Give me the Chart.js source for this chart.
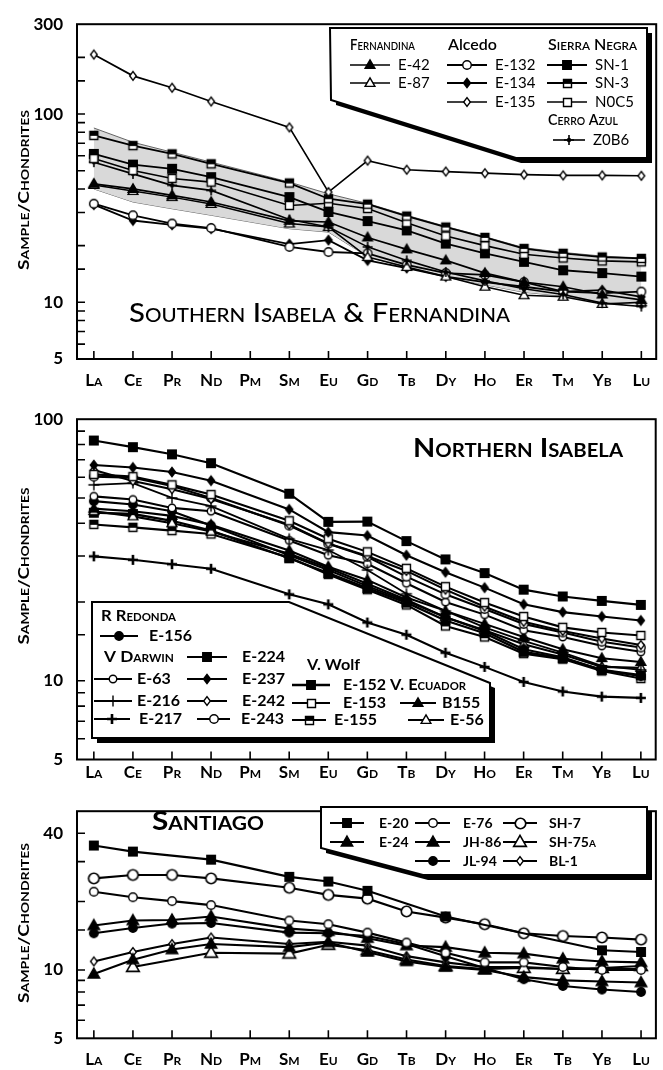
<!DOCTYPE html>
<html lang="en">
<head>
<meta charset="utf-8">
<title>Chondrite-normalised REE patterns</title>
<script src="https://cdn.jsdelivr.net/npm/chart.js@4.4.1/dist/chart.umd.min.js"></script>
<style>
  html, body { margin:0; padding:0; background:#fff; }
  #page { position:relative; width:663px; height:1070px; overflow:hidden; background:#fff; }
  #page canvas { position:absolute; left:0; }
</style>
</head>
<body>
<div id="page">
  <canvas id="south" width="663" height="400" style="top:0px"></canvas>
  <canvas id="north" width="663" height="392" style="top:395px"></canvas>
  <canvas id="santiago" width="663" height="283" style="top:787px"></canvas>
</div>
<script>
// ================= DATA =================
const elements = ['La','Ce','Pr','Nd','Pm','Sm','Eu','Gd','Tb','Dy','Ho','Er','Tm','Yb','Lu'];
const elementsSantiago = ['La','Ce','Pr','Nd','Pm','Sm','Eu','Gd','Tb','Dy','Ho','Er','Tb','Yb','Lu'];

const yTicksSouth = [5, 10, 100, 300];
const yTicksNorth = [5, 10, 100];
const yTicksSantiago = [5, 10, 40];

// --- Southern Isabela & Fernandina ---
const E42  = [42.6, 40.0, 37.0, 34.1, null, 27.1, 26.7, 22.1, 19.1, 16.7, 14.3, 12.8, 12.1, 11.0, 10.3];
const E87  = [42.0, 39.0, 36.2, 33.3, null, 26.2, 25.1, 17.4, 15.4, 13.7, 12.1, 10.9, 10.7, 9.8, 10.0];
const E132 = [33.4, 29.0, 26.2, 24.8, null, 19.7, 18.5, 18.2, 15.8, 14.3, 14.0, 12.8, 11.4, 11.2, 11.4];
const E134 = [33.0, 27.2, 25.8, 24.6, null, 20.4, 21.4, 16.7, 15.2, 13.7, 12.8, 12.1, 11.4, 11.6, 10.7];
const E135 = [207, 159.5, 138, 116.6, null, 84.9, 38.5, 56.6, 50.6, 49.5, 48.5, 47.7, 47.2, 47.2, 47.0];
const SN1  = [61.4, 53.9, 51.2, 46.2, null, 36.2, 30.2, 27.0, 24.1, 20.5, 18.2, 16.4, 14.8, 14.3, 13.7];
const SN3  = [77.0, 68.0, 61.4, 54.4, null, 43.0, 35.5, 33.2, 28.7, 25.1, 22.1, 19.3, 18.2, 17.4, 17.1];
const N0C5 = [58.0, 50.1, 45.5, 43.5, null, 32.7, 33.6, 31.5, 26.5, 22.5, 20.0, 18.0, 17.2, 16.6, 16.4];
const Z0B6 = [55.5, 48.1, 41.8, 39.3, null, 27.5, 25.1, 19.7, 16.7, 14.5, 13.0, 11.8, 11.0, 9.9, 9.5];
const rangeHigh = [84.3, 70.8, 62.7, 55.5, null, 43.5, 37.7, 33.5, 29.0, 25.3, 22.3, 19.5, 18.4, 17.6, 17.2];
const rangeLow  = [40.0, 34.1, 31.4, 29.0, null, 24.6, 23.6, 17.5, 15.3, 13.6, 12.4, 11.3, 10.8, 10.0, 9.8];

// --- Northern Isabela ---
const E156 = [48.6, 47.2, 44.5, 39.2, null, 30.2, 26.5, 23.0, 20.2, 17.5, 15.5, 13.2, 12.3, 11.0, 10.4];
const E63  = [50.7, 49.3, 45.8, 44.5, null, 34.4, 30.2, 28.0, 23.6, 20.0, 17.9, 15.6, 14.7, 13.6, 12.9];
const E216 = [56.1, 57.0, 50.0, 46.5, null, 34.9, 31.6, 26.5, 21.5, 18.5, 16.0, 14.2, 12.8, 11.4, 11.0];
const E217 = [29.9, 29.0, 27.9, 26.8, null, 21.4, 19.6, 16.7, 15.0, 12.8, 11.3, 9.9, 9.1, 8.7, 8.6];
const E224 = [82.9, 78.2, 73.4, 67.9, null, 51.9, 40.5, 40.6, 34.2, 29.1, 25.8, 22.3, 21.0, 20.2, 19.5];
const E237 = [66.8, 65.4, 62.8, 58.2, null, 45.2, 37.0, 35.9, 30.2, 26.0, 22.7, 19.6, 18.3, 17.6, 17.0];
const E242 = [64.0, 58.0, 54.0, 49.5, null, 39.5, 33.5, 30.0, 26.3, 22.3, 19.2, 16.8, 15.5, 14.5, 13.7];
const E243 = [60.3, 59.8, 55.5, 50.0, null, 39.2, 33.4, 29.8, 25.0, 21.4, 18.8, 16.5, 15.3, 14.1, 13.4];
const E152 = [43.9, 43.4, 40.9, 37.5, null, 29.4, 25.8, 22.6, 19.9, 17.0, 15.2, 12.9, 12.2, 11.0, 10.5];
const E153 = [61.5, 60.3, 56.1, 51.5, null, 40.9, 34.9, 31.1, 26.9, 22.9, 19.9, 17.6, 16.0, 15.3, 14.9];
const E155 = [39.6, 38.6, 37.5, 36.4, null, 29.6, 25.5, 22.3, 19.5, 16.2, 14.7, 12.7, 12.1, 10.9, 10.2];
const B155 = [45.5, 44.5, 42.7, 39.5, null, 31.5, 27.3, 24.3, 20.8, 18.5, 16.5, 14.7, 13.2, 12.2, 11.8];
const E56  = [44.5, 42.5, 40.0, 37.2, null, 30.6, 27.0, 23.5, 20.4, 17.5, 15.6, 13.8, 12.6, 11.3, 11.2];

// --- Santiago ---
const E20   = [35.3, 33.2, null, 30.6, null, 25.7, 24.5, 22.3, null, 17.2, null, null, null, 12.2, 12.0];
const E24   = [15.7, 16.5, 16.6, 17.2, null, 15.2, 14.8, 13.8, 12.8, 12.6, 11.9, 11.8, 11.2, 10.9, 10.8];
const E76   = [22.1, 20.9, 20.1, 19.3, null, 16.5, 15.9, 14.6, 13.2, 11.9, 10.8, 10.8, 10.3, 10.0, 10.0];
const JH86  = [9.6, 11.1, 12.3, 13.0, null, 12.6, 13.2, 12.0, 10.9, 10.3, 10.0, 9.3, 9.0, 8.9, 8.8];
const JL94  = [14.5, 15.3, 16.0, 16.1, null, 14.6, 14.5, 14.1, 13.0, 11.5, 10.2, 9.1, 8.5, 8.2, 8.0];
const SH7   = [25.3, 26.2, 26.2, 25.3, null, 23.0, 21.4, 20.6, 18.1, 17.0, 15.9, 14.5, 14.1, 13.9, 13.6];
const SH75a = [null, 10.3, null, 11.9, null, 11.8, 12.9, 12.2, 11.1, 10.4, 10.1, 10.2, 10.1, 10.2, 10.4];
const BL1   = [10.9, 12.0, 13.0, 13.9, null, 13.0, 13.3, 12.8, 11.5, 10.8, 10.3, 10.3, 10.1, 10.1, 10.1];

// ================= HELPERS =================
const FONT = 'Lato';
const X_MIN = -0.431, X_MAX = 14.38;

function pts(arr) {
  return arr.map((v, i) => ({ x: i, y: v })).filter(p => p.y !== null && p.y !== undefined);
}

function makeMarker(shape, fill, size, lw) {
  const W = Math.ceil(size * 1.6) + 4;
  const c = document.createElement('canvas');
  c.width = W; c.height = W;
  const g = c.getContext('2d');
  const m = W / 2, r = size / 2;
  g.strokeStyle = '#000'; g.fillStyle = fill; g.lineWidth = lw || 1.4;
  g.beginPath();
  if (shape === 'square' || shape === 'half') g.rect(m - r, m - r, size, size);
  else if (shape === 'circle') g.arc(m, m, r, 0, Math.PI * 2);
  else if (shape === 'triangle') { g.moveTo(m, m - r * 1.2); g.lineTo(m + r * 1.15, m + r * 0.8); g.lineTo(m - r * 1.15, m + r * 0.8); g.closePath(); }
  else if (shape === 'diamond') { g.moveTo(m, m - r * 1.25); g.lineTo(m + r * 0.95, m); g.lineTo(m, m + r * 1.25); g.lineTo(m - r * 0.95, m); g.closePath(); }
  if (shape === 'plus' || shape === 'plusdot') {
    g.moveTo(m - r, m); g.lineTo(m + r, m); g.moveTo(m, m - r); g.lineTo(m, m + r); g.stroke();
    if (shape === 'plusdot') { g.beginPath(); g.fillStyle = '#000'; g.arc(m, m, 2.2, 0, Math.PI * 2); g.fill(); }
  } else {
    g.fill(); g.stroke();
    if (shape === 'half') { g.fillStyle = '#000'; g.fillRect(m - r, m - r, size, size * 0.55); }
  }
  return c;
}

function lineSet(label, data, marker, lw) {
  return { label, data: pts(data), borderColor: '#000', backgroundColor: '#000', borderWidth: lw,
           pointStyle: marker, pointRadius: 5, pointHoverRadius: 5, tension: 0, fill: false, order: 1 };
}

function fitText(ctx, text, x, y, w, font, baseline) {
  ctx.font = font;
  const nat = ctx.measureText(text).width;
  ctx.save();
  ctx.translate(x, y);
  if (w) ctx.scale(w / nat, 1);
  ctx.textAlign = 'left';
  ctx.textBaseline = baseline || 'middle';
  ctx.fillStyle = '#000';
  ctx.fillText(text, 0, 0);
  ctx.restore();
}

function buildPanel(o) {
  const decor = {
    id: 'decor_' + o.id,
    afterDatasetsDraw(chart) {
      const ctx = chart.ctx, a = chart.chartArea, xs = chart.scales.x, ys = chart.scales.y;
      ctx.save();
      ctx.strokeStyle = '#000';
      ctx.lineWidth = 1.6;
      ctx.beginPath();
      ys.ticks.forEach(t => {
        const y = ys.getPixelForValue(t.value);
        if (y > a.top + 1 && y < a.bottom - 1) { ctx.moveTo(a.left, y); ctx.lineTo(a.left + 8, y); }
      });
      xs.ticks.forEach(t => {
        const x = xs.getPixelForValue(t.value);
        ctx.moveTo(x, a.bottom); ctx.lineTo(x, a.bottom - 8);
      });
      ctx.stroke();
      ctx.lineWidth = 2;
      ctx.strokeRect(a.left, a.top, a.right - a.left, a.bottom - a.top);

      ctx.translate(0, -o.top);
      // y-axis title
      const yt = o.yTitle;
      ctx.save();
      ctx.font = yt.font;
      const nat = ctx.measureText(yt.text).width;
      ctx.translate(yt.x, yt.y);
      ctx.rotate(-Math.PI / 2);
      ctx.scale(yt.w / nat, 1);
      ctx.textAlign = 'center'; ctx.textBaseline = 'middle'; ctx.fillStyle = '#000';
      ctx.fillText(yt.text, 0, 0);
      ctx.restore();
      // panel title
      const pt = o.title;
      fitText(ctx, pt.text, pt.x, pt.y, pt.w, pt.font, 'alphabetic');
      // legend
      const L = o.legend;
      const poly = (dx, dy) => {
        ctx.beginPath();
        L.box.forEach((p, i) => i ? ctx.lineTo(p[0] + dx, p[1] + dy) : ctx.moveTo(p[0] + dx, p[1] + dy));
        ctx.closePath();
      };
      poly(5, 5); ctx.fillStyle = '#000'; ctx.fill();
      poly(0, 0); ctx.fillStyle = '#fff'; ctx.fill();
      ctx.lineWidth = 2; ctx.strokeStyle = '#000'; ctx.stroke();
      L.headers.forEach(h => fitText(ctx, h.text, h.x, h.y, h.w, h.font));
      L.items.forEach(it => {
        const ds = chart.data.datasets.find(d => d.label === it.name);
        ctx.strokeStyle = '#000';
        ctx.lineWidth = ds.borderWidth;
        ctx.beginPath(); ctx.moveTo(it.x0, it.y); ctx.lineTo(it.x1, it.y); ctx.stroke();
        const img = ds.pointStyle;
        ctx.drawImage(img, Math.round((it.x0 + it.x1) / 2 - img.width / 2), Math.round(it.y - img.height / 2));
        ctx.font = L.font; ctx.textAlign = 'left'; ctx.textBaseline = 'middle'; ctx.fillStyle = '#000';
        ctx.fillText(it.name, it.tx, it.y);
      });
      ctx.restore();
    }
  };
  return new Chart(document.getElementById(o.id), {
    type: 'line',
    data: { datasets: o.datasets },
    options: {
      responsive: false, animation: false, events: [],
      layout: { padding: { top: o.padTop, right: 2, left: 0, bottom: 0 } },
      plugins: { legend: { display: false }, tooltip: { enabled: false }, title: { display: false } },
      scales: {
        x: {
          type: 'linear', min: X_MIN, max: X_MAX,
          afterBuildTicks: s => { s.ticks = o.labels.map((_, i) => ({ value: i })); },
          afterFit: s => { s.height = o.xAxisHeight; },
          ticks: { autoSkip: false, maxRotation: 0, minRotation: 0, padding: o.xPad, color: '#000',
                   font: { family: FONT, size: 17, weight: 'small-caps bold' },
                   callback: (v, i) => o.labels[i] },
          grid: { display: false, drawTicks: false }, border: { display: false }
        },
        y: {
          type: 'logarithmic', min: o.yMin, max: o.yMax,
          afterFit: s => { s.width = 77; },
          ticks: { autoSkip: false, padding: 14, color: '#000',
                   font: { family: FONT, size: 17, weight: 'bold' },
                   callback: v => o.yLabels.some(l => Math.abs(l - v) < l * 1e-6) ? String(Math.round(v)) : '' },
          grid: { display: false, drawTicks: false }, border: { display: false }
        }
      }
    },
    plugins: [decor]
  });
}

// ================= MARKERS =================
const mk = {
  triBlack: makeMarker('triangle', '#000', 8.5),
  triWhite: makeMarker('triangle', '#fff', 8.5),
  circWhite: makeMarker('circle', '#fff', 8.5),
  circWhiteSm: makeMarker('circle', '#fff', 7.5),
  circWhiteLg: makeMarker('circle', '#fff', 10.5, 1.7),
  circBlack: makeMarker('circle', '#000', 8.5),
  diaBlack: makeMarker('diamond', '#000', 7.5),
  diaWhite: makeMarker('diamond', '#fff', 7),
  sqBlack: makeMarker('square', '#000', 8.5),
  sqWhite: makeMarker('square', '#fff', 8),
  sqHalf: makeMarker('half', '#fff', 8),
  plusDot: makeMarker('plusdot', '#000', 10, 1.6),
  plusThin: makeMarker('plus', '#000', 11, 1.4),
  plusBold: makeMarker('plus', '#000', 10, 2.6),
  triBlackLg: makeMarker('triangle', '#000', 10),
  triWhiteLg: makeMarker('triangle', '#fff', 11, 1.6)
};

// ================= PANELS =================
const bandStyle = { borderColor: '#555', borderWidth: 0.9, pointRadius: 0, tension: 0, order: 9 };

buildPanel({
  id: 'south', top: 0, padTop: 23, xAxisHeight: 41, xPad: 11,
  yMin: 5, yMax: 300, yLabels: yTicksSouth, labels: elements,
  datasets: [
    lineSet('E-135', E135, mk.diaWhite, 1.7),
    lineSet('SN-3', SN3, mk.sqHalf, 1.8),
    lineSet('N0C5', N0C5, mk.sqWhite, 1.6),
    lineSet('SN-1', SN1, mk.sqBlack, 1.8),
    lineSet('Z0B6', Z0B6, mk.plusDot, 1.6),
    lineSet('E-42', E42, mk.triBlack, 1.7),
    lineSet('E-87', E87, mk.triWhite, 1.5),
    lineSet('E-132', E132, mk.circWhite, 1.8),
    lineSet('E-134', E134, mk.diaBlack, 1.8),
    Object.assign({ label: 'range high', data: pts(rangeHigh), fill: '+1', backgroundColor: '#d9d9d9' }, bandStyle),
    Object.assign({ label: 'range low', data: pts(rangeLow), fill: false }, bandStyle)
  ],
  yTitle: { text: 'Sample/Chondrites', x: 24, y: 190, w: 160, font: 'small-caps bold 15px ' + FONT },
  title: { text: 'Southern Isabela & Fernandina', x: 129, y: 322, w: 381, font: 'small-caps 500 27px ' + FONT },
  legend: {
    box: [[330, 28], [647, 28], [647, 158], [516, 158], [331, 100]],
    font: '15px ' + FONT,
    headers: [
      { text: 'Fernandina', x: 350, y: 45, w: 65, font: 'small-caps 600 15px ' + FONT },
      { text: 'Alcedo', x: 448, y: 45, w: 49, font: '600 15px ' + FONT },
      { text: 'Sierra Negra', x: 548, y: 45, w: 89, font: 'small-caps 600 15px ' + FONT },
      { text: 'Cerro Azul', x: 548, y: 120, w: 70, font: 'small-caps 600 15px ' + FONT }
    ],
    items: [
      { name: 'E-42', x0: 350, x1: 390, y: 65, tx: 398 },
      { name: 'E-87', x0: 350, x1: 390, y: 83, tx: 398 },
      { name: 'E-132', x0: 447, x1: 487, y: 65, tx: 495 },
      { name: 'E-134', x0: 447, x1: 487, y: 83, tx: 495 },
      { name: 'E-135', x0: 447, x1: 487, y: 102, tx: 495 },
      { name: 'SN-1', x0: 547, x1: 587, y: 65, tx: 595 },
      { name: 'SN-3', x0: 547, x1: 587, y: 83, tx: 595 },
      { name: 'N0C5', x0: 547, x1: 587, y: 102, tx: 595 },
      { name: 'Z0B6', x0: 553, x1: 585, y: 140, tx: 593 }
    ]
  }
});

buildPanel({
  id: 'north', top: 395, padTop: 18.3, xAxisHeight: 27.5, xPad: 3,
  yMin: 5, yMax: 100, yLabels: yTicksNorth, labels: elements,
  datasets: [
    lineSet('E-224', E224, mk.sqBlack, 2.1),
    lineSet('E-237', E237, mk.diaBlack, 2.1),
    lineSet('E-153', E153, mk.sqWhite, 2.1),
    lineSet('E-242', E242, mk.diaWhite, 2.1),
    lineSet('E-243', E243, mk.circWhite, 2.1),
    lineSet('E-216', E216, mk.plusThin, 1.8),
    lineSet('E-63', E63, mk.circWhiteSm, 2.1),
    lineSet('E-156', E156, mk.circBlack, 2.1),
    lineSet('B155', B155, mk.triBlack, 2.1),
    lineSet('E-56', E56, mk.triWhite, 2.1),
    lineSet('E-152', E152, mk.sqBlack, 2.3),
    lineSet('E-155', E155, mk.sqHalf, 2.1),
    lineSet('E-217', E217, mk.plusBold, 2.1)
  ],
  yTitle: { text: 'Sample/Chondrites', x: 24, y: 566, w: 157, font: 'small-caps bold 15px ' + FONT },
  title: { text: 'Northern Isabela', x: 413, y: 457, w: 210, font: 'small-caps bold 27px ' + FONT },
  legend: {
    box: [[92, 602], [289, 602], [490, 683], [490, 738], [92, 738]],
    font: 'bold 16px ' + FONT,
    headers: [
      { text: 'R Redonda', x: 101, y: 616, w: 75, font: 'small-caps bold 16px ' + FONT },
      { text: 'V Darwin', x: 104, y: 657, w: 70, font: 'small-caps bold 16px ' + FONT },
      { text: 'V. Wolf', x: 307, y: 665, w: 53, font: 'bold 16px ' + FONT },
      { text: 'V. Ecuador', x: 390, y: 685, w: 76, font: 'small-caps bold 16px ' + FONT }
    ],
    items: [
      { name: 'E-156', x0: 100, x1: 138, y: 636, tx: 149 },
      { name: 'E-224', x0: 187, x1: 227, y: 657, tx: 242 },
      { name: 'E-63', x0: 94, x1: 132, y: 679, tx: 137 },
      { name: 'E-237', x0: 187, x1: 227, y: 679, tx: 242 },
      { name: 'E-152', x0: 292, x1: 330, y: 685, tx: 343 },
      { name: 'E-216', x0: 94, x1: 132, y: 701, tx: 137 },
      { name: 'E-242', x0: 187, x1: 227, y: 701, tx: 242 },
      { name: 'E-153', x0: 292, x1: 330, y: 703, tx: 343 },
      { name: 'B155', x0: 400, x1: 436, y: 703, tx: 442 },
      { name: 'E-217', x0: 94, x1: 130, y: 719, tx: 139 },
      { name: 'E-243', x0: 197, x1: 230, y: 719, tx: 241 },
      { name: 'E-155', x0: 292, x1: 326, y: 720, tx: 334 },
      { name: 'E-56', x0: 408, x1: 444, y: 720, tx: 450 }
    ]
  }
});

buildPanel({
  id: 'santiago', top: 787, padTop: 10.3, xAxisHeight: 31.7, xPad: 11.5,
  yMin: 5, yMax: 50, yLabels: yTicksSantiago, labels: elementsSantiago,
  datasets: [
    lineSet('E-20', E20, mk.sqBlack, 2.1),
    lineSet('SH-7', SH7, mk.circWhiteLg, 2.1),
    lineSet('E-76', E76, mk.circWhite, 2.1),
    lineSet('E-24', E24, mk.triBlackLg, 2.1),
    lineSet('JL-94', JL94, mk.circBlack, 2.1),
    lineSet('JH-86', JH86, mk.triBlackLg, 2.1),
    lineSet('SH-75a', SH75a, mk.triWhiteLg, 2.1),
    lineSet('BL-1', BL1, mk.diaWhite, 2.1)
  ],
  yTitle: { text: 'Sample/Chondrites', x: 24, y: 923, w: 160, font: 'small-caps bold 15px ' + FONT },
  title: { text: 'Santiago', x: 152, y: 830, w: 112, font: 'small-caps bold 27px ' + FONT },
  legend: {
    box: [[321, 807], [647, 807], [647, 875], [423, 875], [321, 848]],
    font: 'small-caps bold 14px ' + FONT,
    headers: [],
    items: [
      { name: 'E-20', x0: 330, x1: 364, y: 823, tx: 379 },
      { name: 'E-76', x0: 415, x1: 450, y: 823, tx: 463 },
      { name: 'SH-7', x0: 503, x1: 537, y: 823, tx: 549 },
      { name: 'E-24', x0: 330, x1: 364, y: 842, tx: 379 },
      { name: 'JH-86', x0: 415, x1: 450, y: 842, tx: 463 },
      { name: 'SH-75a', x0: 503, x1: 537, y: 842, tx: 549 },
      { name: 'JL-94', x0: 415, x1: 450, y: 861, tx: 463 },
      { name: 'BL-1', x0: 503, x1: 537, y: 861, tx: 549 }
    ]
  }
});
</script>
</body>
</html>
